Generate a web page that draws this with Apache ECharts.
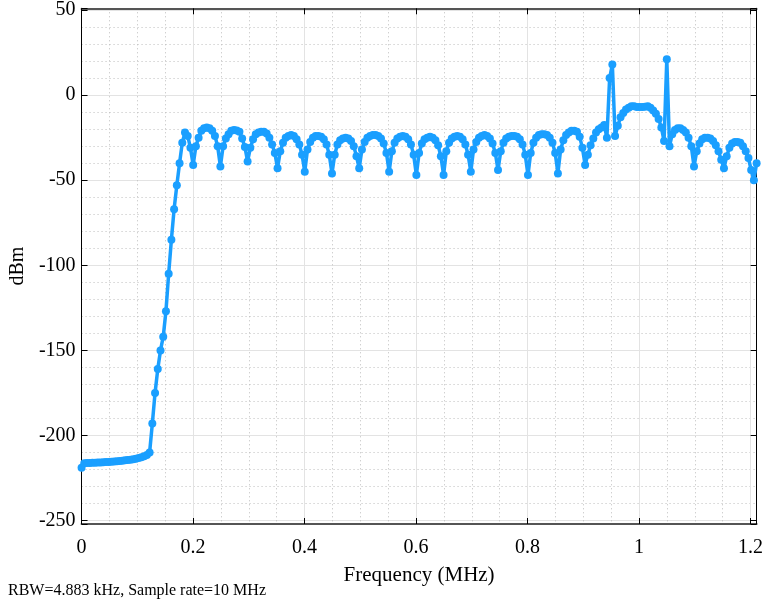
<!DOCTYPE html>
<html><head><meta charset="utf-8">
<script src="https://cdn.jsdelivr.net/npm/echarts@6/dist/echarts.min.js"></script>
<style>html,body{margin:0;padding:0;background:#fff}#c{width:766px;height:604px}</style>
</head><body><div id="c"></div>
<script>
// Bin spacing: RBW = 10 MHz / 2048 = 4.883 kHz
const binMHz = 10 / 2048;
const xTickLabels = ['0', '0.2', '0.4', '0.6', '0.8', '1', '1.2'];
const yTickLabels = ['-250', '-200', '-150', '-100', '-50', '0', '50'];

// Power (dBm) for bins 0..248
const floorPart = [-219, -216.3, -216.2, -216.1, -216.0, -216.0, -215.9, -215.8, -215.7, -215.6, -215.5, -215.4, -215.3, -215.1, -215.0, -214.8, -214.6, -214.4, -214.2, -213.9, -213.6, -213.2, -212.8, -212.2, -211.4, -210];
const risePart = [-193, -175, -161, -150, -142, -127, -105, -85, -67, -53, -40, -28, -22, -24, -31, -41];
const lobesA = [
  -30, -25, -21, -19.5, -19, -19.5, -21, -24, -30, -42,
  -30, -25.5, -23, -21, -20.5, -20.8, -21.5, -25.5, -30.5, -39,
  -31, -26, -23, -22, -21.5, -21.5, -22.5, -25, -29, -34, -43,
  -33, -28, -25, -24, -23.5, -24, -26, -29, -35, -45,
  -32, -27.5, -25, -24, -24, -24.5, -26, -29, -35, -46,
  -35, -29, -26.5, -25.5, -25, -25.5, -27, -30, -36, -43
];
const lobesB = [
  -32, -27.5, -25, -24, -23.5, -23.5, -24, -25.5, -28.5, -34, -45,
  -33, -28, -25.5, -24.5, -24, -24.5, -26, -29, -35, -47,
  -34, -28.5, -26, -25, -24.5, -25, -26.5, -29.5, -36, -47,
  -33, -28, -25.5, -24.5, -24, -24.5, -26, -29, -35, -45,
  -32, -27.5, -25, -24, -23.5, -24, -25.5, -28.5, -34, -44,
  -33, -28, -25.5, -24.5, -24, -24, -24.5, -26, -29, -35, -47,
  -34, -28, -25, -23.5, -23, -23, -23.5, -25, -28, -34, -46,
  -32, -26.5, -23.5, -22, -21, -21, -21.5, -24.5, -31, -41
];
const tonePart = [
  -35, -29.5, -25.5, -22, -20, -19, -17.5, -25, 10, 18, -24,
  -18, -13, -10.5, -8.5, -7.5, -6.5, -6.5, -7, -7, -7, -6.8, -6.5, -7.5, -9, -11, -14, -19, -27, 21, -30
];
const tailPart = [
  -23, -20.5, -19.5, -19.5, -20.5, -22, -25, -30, -42,
  -33, -28.5, -26, -25, -25, -25.5, -27, -29.5, -33, -38, -43,
  -36, -31, -28.5, -27.5, -27.5, -28, -30, -33, -37, -44, -50, -40
];

const dBm = [].concat(floorPart, risePart, lobesA, lobesB, tonePart, tailPart);
const points = dBm.map((v, k) => [k * binMHz, v]);
const xMax = (dBm.length - 1) * binMHz;

const FONT = '"Liberation Serif", "Times New Roman", serif';
const onGrid = (v, step) => Math.abs(v / step - Math.round(v / step)) < 1e-6;

const chart = echarts.init(document.getElementById('c'), null, {renderer: 'canvas'});
const minorLine = {show: true, lineStyle: {color: '#bdbdbd', width: 1, type: [1, 3]}};
const majorLine = {show: true, lineStyle: {color: '#e3e3e3', width: 1}};
chart.setOption({
  animation: false,
  backgroundColor: '#fff',
  grid: {left: 79, right: 9, top: 5, bottom: 80, containLabel: false},
  xAxis: [{
    type: 'value', min: 0, max: xMax, interval: 0.2, position: 'bottom',
    axisLine: {show: true, onZero: false, lineStyle: {color: '#555', width: 2}},
    axisTick: {show: true, inside: true, length: 6, lineStyle: {color: '#000'}},
    axisLabel: {fontFamily: FONT, fontSize: 20, color: '#000', margin: 14,
      formatter: v => onGrid(v, 0.2) ? xTickLabels[Math.round(v / 0.2)] : ''},
    splitLine: majorLine,
    minorTick: {show: false, splitNumber: 4},
    minorSplitLine: minorLine,
    name: 'Frequency (MHz)', nameLocation: 'middle', nameGap: 41,
    nameTextStyle: {fontFamily: FONT, fontSize: 21, color: '#000'}
  }, {
    type: 'value', min: 0, max: xMax, interval: 0.2, position: 'top',
    axisLine: {show: true, onZero: false, lineStyle: {color: '#555', width: 2}},
    axisTick: {show: true, inside: true, length: 6, lineStyle: {color: '#000'}},
    axisLabel: {show: false}, splitLine: {show: false}
  }],
  yAxis: [{
    type: 'value', min: -252, max: 51, splitNumber: 6, position: 'left',
    axisLine: {show: true, onZero: false, lineStyle: {color: '#000', width: 1}},
    axisTick: {show: true, inside: true, length: 6, lineStyle: {color: '#000'}},
    axisLabel: {fontFamily: FONT, fontSize: 20, color: '#000', margin: 6,
      formatter: v => onGrid(v, 50) ? yTickLabels[Math.round((v + 250) / 50)] : ''},
    splitLine: majorLine,
    minorTick: {show: false, splitNumber: 5},
    minorSplitLine: minorLine,
    name: 'dBm', nameLocation: 'middle', nameGap: 50, nameRotate: 90,
    nameTextStyle: {fontFamily: FONT, fontSize: 20, color: '#000'}
  }, {
    type: 'value', min: -252, max: 51, splitNumber: 6, position: 'right',
    axisLine: {show: true, onZero: false, lineStyle: {color: '#000', width: 1}},
    axisTick: {show: true, inside: true, length: 6, lineStyle: {color: '#000'}},
    axisLabel: {show: false}, splitLine: {show: false}
  }],
  graphic: [{
    type: 'text', left: 8, top: 583,
    style: {text: 'RBW=4.883 kHz, Sample rate=10 MHz', font: '16px "Liberation Serif"', fill: '#000'}
  }],
  series: [{
    type: 'line', xAxisIndex: 0, yAxisIndex: 0, data: points,
    symbol: 'circle', symbolSize: 8, showSymbol: true, clip: false,
    lineStyle: {width: 3.5, color: '#1a9fff'},
    itemStyle: {color: '#1a9fff'}
  }]
});
</script></body></html>
